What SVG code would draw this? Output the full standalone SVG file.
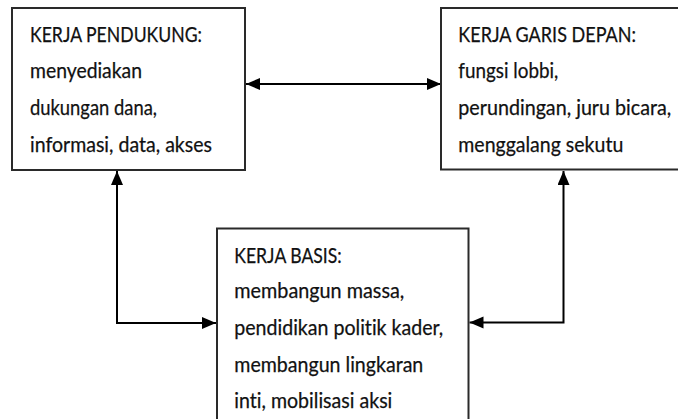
<svg xmlns="http://www.w3.org/2000/svg" width="678" height="419" viewBox="0 0 678 419">
  <style>
    .box { fill: #ffffff; stroke: #2a2a2a; stroke-width: 2; }
    .t { font-family: Lato, "Liberation Sans", sans-serif; font-size: 21px; fill: #111111; stroke: #111111; stroke-width: 0.25; font-variant-ligatures: none; font-feature-settings: "liga" 0, "clig" 0; }
    .conn { fill: none; stroke: #000000; stroke-width: 2; }
  </style>
  <defs>
    <marker id="arrow" markerUnits="userSpaceOnUse" markerWidth="15" markerHeight="13" refX="14" refY="6" orient="auto-start-reverse">
      <path d="M0,0 L14,6 L0,12 Z" fill="#000000"/>
    </marker>
  </defs>
  <rect width="678" height="419" fill="#ffffff"/>

  <g id="connectors">
    <path class="conn" d="M246,84 H441" marker-start="url(#arrow)" marker-end="url(#arrow)"/>
    <path class="conn" d="M117,171 V323 H216" marker-start="url(#arrow)" marker-end="url(#arrow)"/>
    <path class="conn" d="M563.5,171 V322.5 H469.5" marker-start="url(#arrow)" marker-end="url(#arrow)"/>
  </g>

  <g id="kerja-pendukung">
    <rect class="box" x="12" y="8" width="233" height="162"/>
    <text class="t" x="30" y="41.7" textLength="172" lengthAdjust="spacingAndGlyphs">KERJA PENDUKUNG:</text>
    <text class="t" x="30" y="78.3" textLength="112" lengthAdjust="spacingAndGlyphs">menyediakan</text>
    <text class="t" x="30" y="115" textLength="127" lengthAdjust="spacingAndGlyphs">dukungan dana,</text>
    <text class="t" x="30" y="151.7" textLength="182" lengthAdjust="spacingAndGlyphs">informasi, data, akses</text>
  </g>

  <g id="kerja-garis-depan">
    <rect class="box" x="441" y="8" width="250" height="161.5"/>
    <text class="t" x="458.3" y="41.7" textLength="177.7" lengthAdjust="spacingAndGlyphs">KERJA GARIS DEPAN:</text>
    <text class="t" x="458.3" y="78.3" textLength="100" lengthAdjust="spacingAndGlyphs">fungsi lobbi,</text>
    <text class="t" x="458.3" y="115" textLength="213" lengthAdjust="spacingAndGlyphs">perundingan, juru bicara,</text>
    <text class="t" x="458.3" y="151.7" textLength="165" lengthAdjust="spacingAndGlyphs">menggalang sekutu</text>
  </g>

  <g id="kerja-basis">
    <rect class="box" x="217" y="228.5" width="251.5" height="200"/>
    <text class="t" x="234.3" y="262.7" textLength="107.4" lengthAdjust="spacingAndGlyphs">KERJA BASIS:</text>
    <text class="t" x="234.3" y="298.3" textLength="170" lengthAdjust="spacingAndGlyphs">membangun massa,</text>
    <text class="t" x="234.3" y="335" textLength="209" lengthAdjust="spacingAndGlyphs">pendidikan politik kader,</text>
    <text class="t" x="234.3" y="371.7" textLength="189" lengthAdjust="spacingAndGlyphs">membangun lingkaran</text>
    <text class="t" x="234.3" y="408.3" textLength="158" lengthAdjust="spacingAndGlyphs">inti, mobilisasi aksi</text>
  </g>
</svg>
